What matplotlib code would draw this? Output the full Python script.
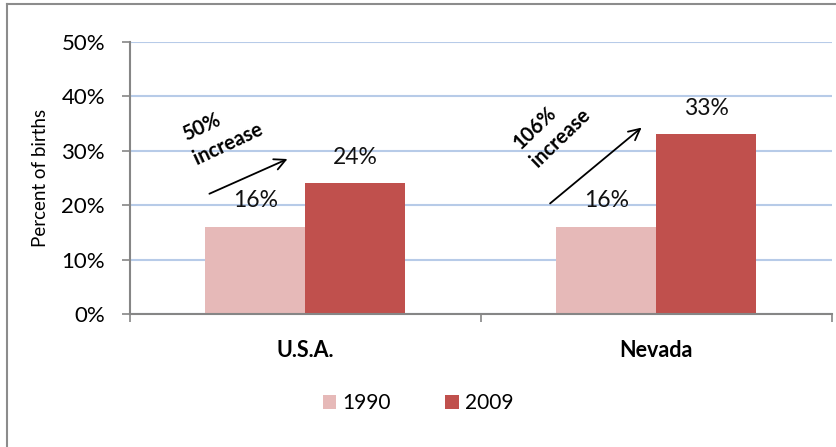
import matplotlib.pyplot as plt
from matplotlib.lines import Line2D
import numpy as np

plt.rcParams['font.family'] = ['Lato', 'DejaVu Sans']

# データ
categories = ["U.S.A.", "Nevada"]
years = ["1990", "2009"]
values_1990 = [16, 16]
values_2009 = [24, 33]
y_ticks = [0, 10, 20, 30, 40, 50]
increase_labels = ["50%\nincrease", "106%\nincrease"]

colors = ["#E6B9B8", "#C0504D"]

fig = plt.figure(figsize=(8.36, 4.47), dpi=100)
ax = fig.add_axes([0.1555, 0.2975, 0.8395, 0.6085])

x = np.arange(len(categories))
w = 0.285
b1 = ax.bar(x - w / 2, values_1990, w, color=colors[0], label=years[0])
b2 = ax.bar(x + w / 2, values_2009, w, color=colors[1], label=years[1])

# 値ラベル
for bars in (b1, b2):
    for r in bars:
        ax.annotate(f"{r.get_height():.0f}%", (r.get_x() + r.get_width() / 2, r.get_height()),
                    xytext=(0, 19), textcoords="offset points", ha="center", va="center",
                    fontsize=16.5, color="#111111")

ax.set_xlim(-0.5, 1.5)
ax.set_ylim(0, 50)
ax.set_yticks(y_ticks)
ax.set_yticklabels([f"{t}%" for t in y_ticks], fontsize=16)
ax.tick_params(axis="y", length=6, width=1.2, color="#868686", pad=12)
ax.set_ylabel("Percent of births", fontsize=13.5, labelpad=9)

ax.set_xticks([-0.5, 0.5, 1.5])
ax.set_xticklabels([])
ax.tick_params(axis="x", which="major", length=6, width=1.2, color="#868686")
ax.set_xticks(x, minor=True)
ax.set_xticklabels(categories, minor=True, fontsize=15.5, fontweight="bold")
ax.tick_params(axis="x", which="minor", length=0, pad=19)

ax.grid(axis="y", color="#B7CBE8", linewidth=1.5)
ax.set_axisbelow(True)
for s in ["top", "right"]:
    ax.spines[s].set_visible(False)
for s in ["left", "bottom"]:
    ax.spines[s].set_color("#868686")
    ax.spines[s].set_linewidth(1.5)

# 矢印と注記
arrows = [((-0.281, 21.9), (-0.044, 28.7)), ((0.691, 20.0), (0.964, 34.6))]
text_pos = [(-0.235, 33.5), (0.702, 34.0)]
text_rot = [25, 44]
for (s, e), tp, rot, lab in zip(arrows, text_pos, text_rot, increase_labels):
    ax.annotate("", xy=e, xytext=s,
                arrowprops=dict(arrowstyle="->", lw=1.3, color="black", mutation_scale=20))
    ax.text(tp[0], tp[1], lab, rotation=rot, rotation_mode="anchor", ha="center", va="center",
            fontsize=14.5, fontweight="bold", multialignment="left", linespacing=1.35)

fig.legend(loc="center", bbox_to_anchor=(418 / 836, 1 - 403 / 447), ncol=2, frameon=False,
           fontsize=15, handlelength=0.65, handleheight=0.65, handletextpad=0.3, columnspacing=2.6)

# 外枠
fig.add_artist(Line2D([6.5 / 836, 6.5 / 836], [0, 1 - 3.5 / 447], color="#8c8c8c", lw=1.5))
fig.add_artist(Line2D([6.5 / 836, 1], [1 - 3.5 / 447, 1 - 3.5 / 447], color="#8c8c8c", lw=1.5))

fig.savefig("out.png", dpi=100)
